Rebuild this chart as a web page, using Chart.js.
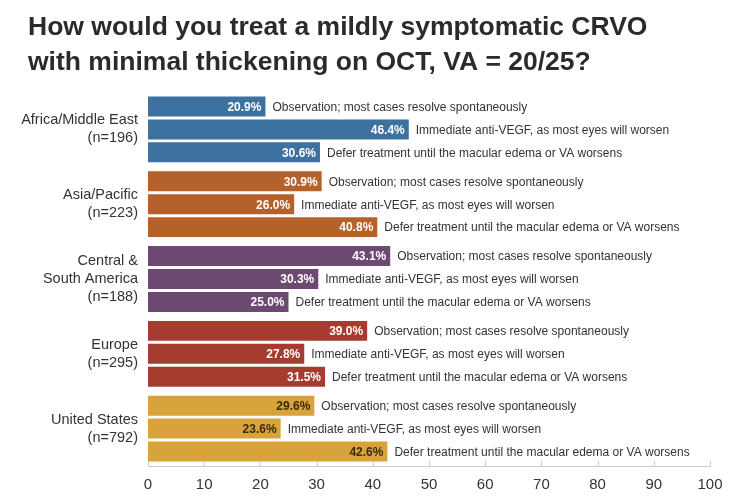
<!DOCTYPE html>
<html>
<head>
<meta charset="utf-8">
<script src="https://cdn.jsdelivr.net/npm/chart.js@4/dist/chart.umd.min.js"></script>
<style>
  html, body { margin: 0; padding: 0; background: #fff; }
  #wrap { width: 744px; height: 497px; }
</style>
</head>
<body>
<div id="wrap"><canvas id="chart" width="744" height="497"></canvas></div>
<script>
const titleLines = [
    'How would you treat a mildly symptomatic CRVO',
    'with minimal thickening on OCT, VA = 20/25?'
]
const regions = [
    ['Africa/Middle East', '(n=196)'],
    ['Asia/Pacific', '(n=223)'],
    ['Central &', 'South America', '(n=188)'],
    ['Europe', '(n=295)'],
    ['United States', '(n=792)']
]
const answers = [
    'Observation; most cases resolve spontaneously',
    'Immediate anti-VEGF, as most eyes will worsen',
    'Defer treatment until the macular edema or VA worsens'
]
const observation = [20.9, 30.9, 43.1, 39.0, 29.6]
const immediate = [46.4, 26.0, 30.3, 27.8, 23.6]
const defer = [30.6, 40.8, 25.0, 31.5, 42.6]
const xTicks = [0, 10, 20, 30, 40, 50, 60, 70, 80, 90, 100]

const regionColors = ['#3c71a0', '#b5612c', '#6c4971', '#a63b2f', '#d9a33c']
const valueColors = ['#ffffff', '#ffffff', '#ffffff', '#ffffff', '#3a2b0c']
const fontFamily = '"Liberation Sans", Arial, sans-serif'

// title drawn by hand so it can sit further right than the axis labels
const titleText = {
    id: 'titleText',
    afterDraw(chart) {
        const ctx = chart.ctx
        ctx.save()
        ctx.font = 'bold 26.5px ' + fontFamily
        ctx.fillStyle = '#2b2b2b'
        ctx.textAlign = 'left'
        ctx.textBaseline = 'middle'
        titleLines.forEach((line, i) => {
            ctx.fillText(line, 28, 27.5 + i * 35)
        })
        ctx.restore()
    }
}

// labels inside and beside each bar
const barLabels = {
    id: 'barLabels',
    afterDatasetsDraw(chart) {
        const ctx = chart.ctx
        ctx.save()
        ctx.textBaseline = 'middle'
        chart.data.datasets.forEach((ds, i) => {
            const meta = chart.getDatasetMeta(i)
            meta.data.forEach((bar, j) => {
                const v = ds.data[j]
                ctx.font = 'bold 12px ' + fontFamily
                ctx.textAlign = 'right'
                ctx.fillStyle = valueColors[j]
                ctx.fillText(v.toFixed(1) + '%', bar.x - 4, bar.y + 1)
                ctx.font = '12px ' + fontFamily
                ctx.textAlign = 'left'
                ctx.fillStyle = '#333333'
                ctx.fillText(answers[i], bar.x + 7, bar.y + 1)
            })
        })
        ctx.restore()
    }
}

// small upward tick marks on the x axis
const upTicks = {
    id: 'upTicks',
    afterDraw(chart) {
        const ctx = chart.ctx
        const x = chart.scales.x
        const bottom = chart.chartArea.bottom
        ctx.save()
        ctx.strokeStyle = '#cccccc'
        ctx.lineWidth = 1
        xTicks.forEach(t => {
            const px = Math.round(x.getPixelForValue(t)) + 0.5
            ctx.beginPath()
            ctx.moveTo(px, bottom)
            ctx.lineTo(px, bottom - 5)
            ctx.stroke()
        })
        ctx.restore()
    }
}

const datasets = [observation, immediate, defer].map(values => ({
    data: values,
    backgroundColor: regionColors,
    borderWidth: 0,
    categoryPercentage: 0.92,
    barPercentage: 0.87
}))

new Chart(document.getElementById('chart'), {
    type: 'bar',
    data: {
        labels: regions,
        datasets: datasets
    },
    options: {
        indexAxis: 'y',
        responsive: false,
        animation: false,
        layout: { padding: { left: 4, right: 34, top: 92, bottom: 0 } },
        plugins: {
            legend: { display: false },
            tooltip: { enabled: false },
            title: { display: false }
        },
        scales: {
            x: {
                min: 0,
                max: 100,
                afterBuildTicks(scale) {
                    scale.ticks = xTicks.map(v => ({ value: v }))
                },
                afterFit(scale) { scale.height = 31 },
                grid: { display: false, drawTicks: false },
                border: { display: true, color: '#cccccc' },
                ticks: {
                    color: '#333333',
                    padding: 10,
                    font: { family: fontFamily, size: 15 }
                }
            },
            y: {
                afterFit(scale) { scale.width = 144 },
                grid: { display: false, drawTicks: false },
                border: { display: false },
                ticks: {
                    color: '#333333',
                    padding: 10,
                    font: { family: fontFamily, size: 14.5, lineHeight: 1.25 }
                }
            }
        }
    },
    plugins: [titleText, barLabels, upTicks]
})
</script>
</body>
</html>
